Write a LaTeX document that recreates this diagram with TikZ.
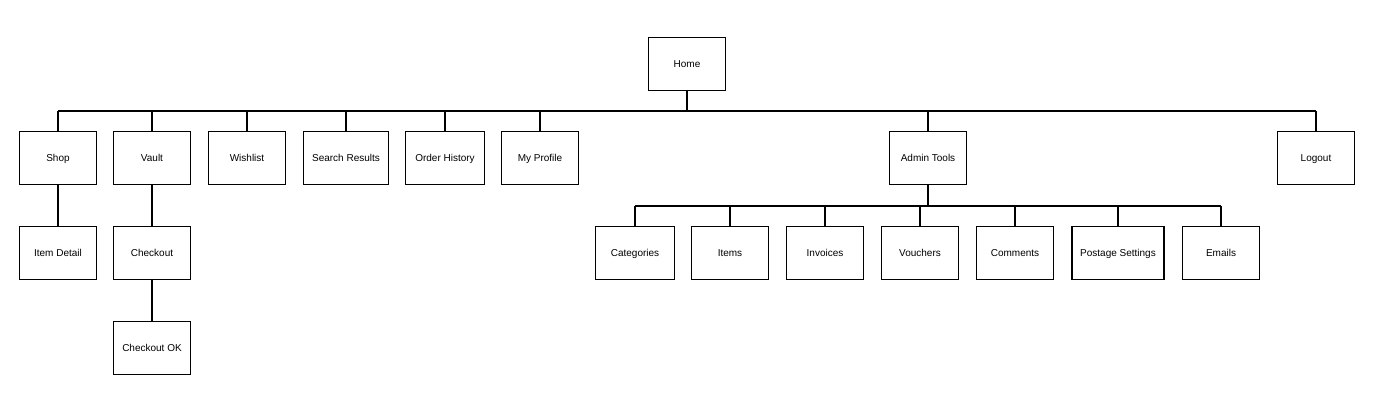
\documentclass[tikz,border=0pt]{standalone}
\usepackage{fontspec}
\setmainfont{Liberation Sans}
\usepackage{tikz}
\usetikzlibrary{positioning}

\tikzset{
  page/.style={draw=black, line width=1.8pt, fill=white, minimum width=77pt,
    minimum height=53pt, inner sep=2pt, text height=8pt, text depth=1pt,
    font=\fontsize{10}{12}\selectfont},
  link/.style={draw=black, line width=1.2pt}
}

\begin{document}
\begin{tikzpicture}[x=1pt, y=-1pt]
\useasboundingbox (0,0) rectangle (1379,411);

% top level
\node[page] (home) at (687,64) {Home};
\coordinate (bus) at (687,111);

\node[page] (shop) at (58,158) {Shop};
\node[page] (vault) at (152,158) {Vault};
\node[page] (wishlist) at (247,158) {Wishlist};
\node[page, minimum width=85pt] (search) at (346,158) {Search Results};
\node[page, minimum width=79pt] (orders) at (445,158) {Order History};
\node[page] (profile) at (540,158) {My Profile};
\node[page] (admin) at (928,158) {Admin Tools};
\node[page] (logout) at (1316,158) {Logout};

% second level
\node[page] (itemdetail) at (58,253) {Item Detail};
\node[page] (checkout) at (152,253) {Checkout};
\node[page] (checkoutok) at (152,348) {Checkout OK};

\coordinate (adminbus) at (928,206);
\node[page, minimum width=79pt] (categories) at (635,253) {Categories};
\node[page] (items) at (730,253) {Items};
\node[page] (invoices) at (825,253) {Invoices};
\node[page] (vouchers) at (920,253) {Vouchers};
\node[page] (comments) at (1015,253) {Comments};
\node[page, minimum width=92pt] (postage) at (1118,253) {Postage Settings};
\node[page] (emails) at (1221,253) {Emails};

% connectors
\draw[link] (home.south) -- (bus);
\draw[link] (shop.north |- bus) -- (logout.north |- bus);
\foreach \n in {shop,vault,wishlist,search,orders,profile,admin,logout}
  \draw[link] (\n.north) -- (\n.north |- bus);

\draw[link] (shop.south) -- (itemdetail.north);
\draw[link] (vault.south) -- (checkout.north);
\draw[link] (checkout.south) -- (checkoutok.north);

\draw[link] (admin.south) -- (adminbus);
\draw[link] (categories.north |- adminbus) -- (emails.north |- adminbus);
\foreach \n in {categories,items,invoices,vouchers,comments,postage,emails}
  \draw[link] (\n.north) -- (\n.north |- adminbus);

\end{tikzpicture}
\end{document}
